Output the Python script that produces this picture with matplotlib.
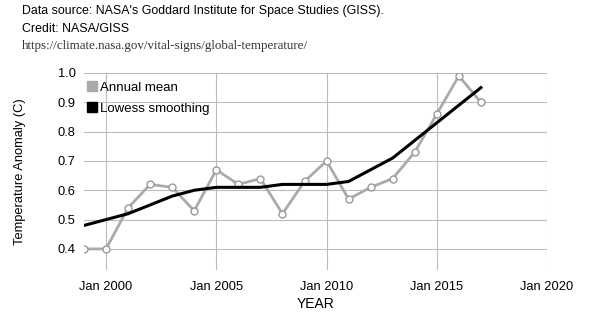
import matplotlib
matplotlib.use('Agg')
from matplotlib import pyplot as plt
import matplotlib.dates as mdates
from matplotlib.lines import Line2D
from datetime import datetime

plt.rcParams['font.family'] = ['Liberation Sans', 'DejaVu Sans']

# Данные
years = list(range(1999, 2018))
annual_mean = [0.40, 0.40, 0.54, 0.62, 0.61, 0.53, 0.67, 0.62, 0.64, 0.52,
               0.63, 0.70, 0.57, 0.61, 0.64, 0.73, 0.86, 0.99, 0.90]
lowess = [0.48, 0.50, 0.52, 0.55, 0.58, 0.60, 0.61, 0.61, 0.61, 0.62,
          0.62, 0.62, 0.63, 0.67, 0.71, 0.77, 0.83, 0.89, 0.95]
tick_years = [2000, 2005, 2010, 2015, 2020]
y_ticks = [0.4, 0.5, 0.6, 0.7, 0.8, 0.9, 1.0]

dates = [datetime(y, 1, 1) for y in years]

fig = plt.figure(figsize=(6, 3.23), dpi=100)
ax = fig.add_axes([84 / 600, 1 - 270 / 323, (547 - 84) / 600, (270 - 73) / 323])

ax.plot(dates, annual_mean, color='#aaaaaa', linewidth=2, marker='o',
        markersize=5, markerfacecolor='white', markeredgecolor='#999999',
        markeredgewidth=1, zorder=3)
ax.plot(dates, lowess, color='black', linewidth=2.2, zorder=4)

ax.set_xlim(datetime(1999, 1, 1), datetime(2020, 1, 1))
ax.set_ylim(0.328, 1.0)
ax.set_xticks([datetime(y, 1, 1) for y in tick_years])
ax.xaxis.set_major_formatter(mdates.DateFormatter('Jan %Y'))
ax.set_yticks(y_ticks)
ax.set_yticklabels([f'{v:.1f}' for v in y_ticks])
ax.grid(True, color='#bbbbbb', linewidth=0.8)
ax.set_axisbelow(True)
for s in ax.spines.values():
    s.set_visible(False)
ax.tick_params(length=0, labelsize=9.3, pad=6)
ax.tick_params(axis='x', pad=8)

ax.set_xlabel('YEAR', fontsize=10, labelpad=3)
ax.set_ylabel('Temperature Anomaly (C)', fontsize=9.3, labelpad=23)

handles = [Line2D([], [], marker='s', linestyle='none', color='#aaaaaa', markersize=7),
           Line2D([], [], marker='s', linestyle='none', color='black', markersize=7)]
ax.legend(handles, ['Annual mean', 'Lowess smoothing'], loc='upper left',
          bbox_to_anchor=(0, 0.97), frameon=False, fontsize=9.5,
          handletextpad=0.2, handlelength=0.8, borderaxespad=0.0,
          borderpad=0.2, labelspacing=0.65)

fig.text(22 / 600, 1 - 11 / 323, "Data source: NASA's Goddard Institute for Space Studies (GISS).",
         fontsize=8.9, va='center')
fig.text(22 / 600, 1 - 29 / 323, 'Credit: NASA/GISS', fontsize=8.9, va='center')
fig.text(22 / 600, 1 - 46 / 323, 'https://climate.nasa.gov/vital-signs/global-temperature/',
         fontsize=9.4, va='center', family=['Liberation Serif', 'DejaVu Serif'], color='#333333')

fig.savefig('out.png', dpi=100)
